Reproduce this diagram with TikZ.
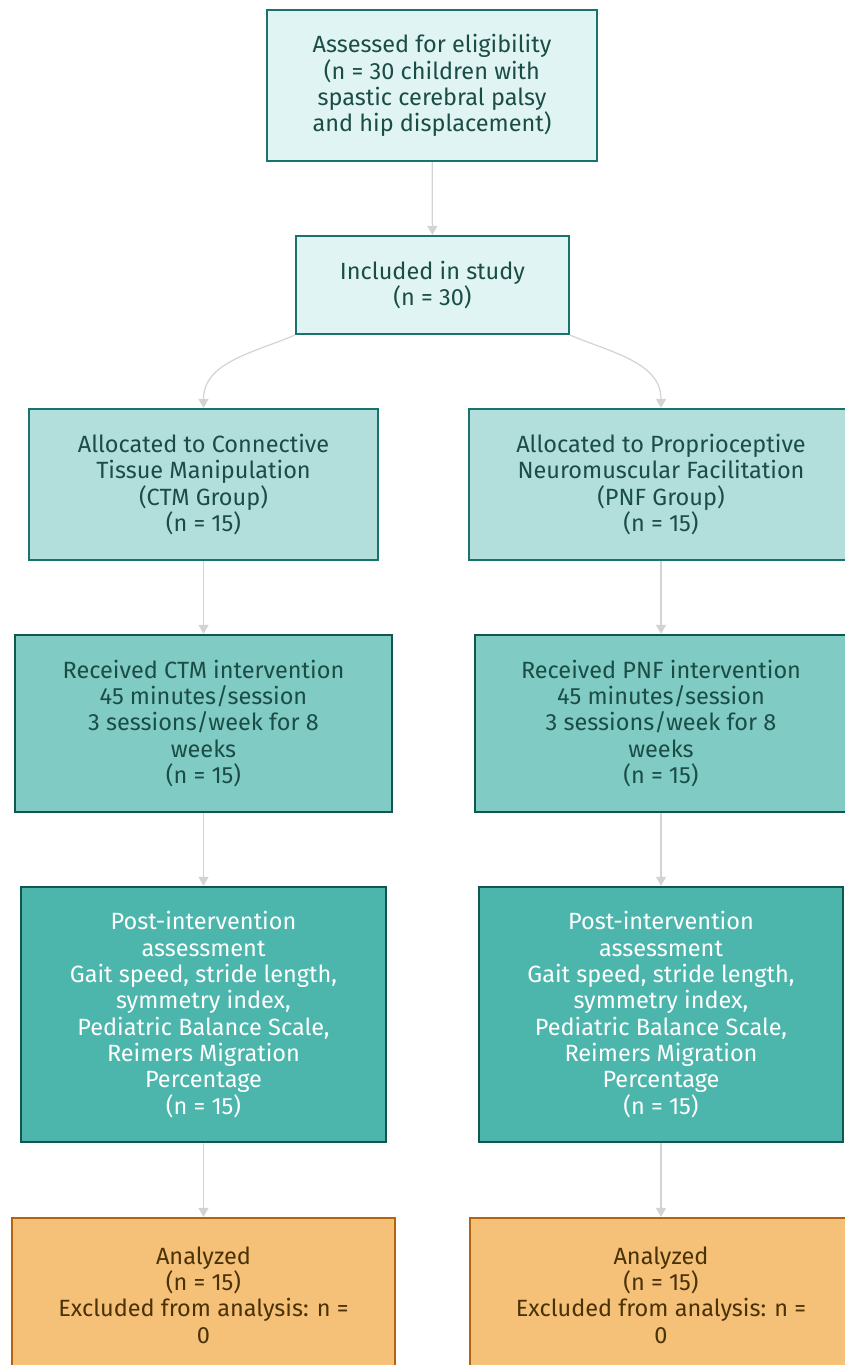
\documentclass[tikz,border=0pt]{standalone}
\usepackage{fontspec}
\setmainfont{Fira Sans}
\usetikzlibrary{arrows.meta}
\definecolor{tealline}{HTML}{17736B}
\definecolor{darkline}{HTML}{12574F}
\definecolor{fillA}{HTML}{E0F5F3}
\definecolor{fillB}{HTML}{B2DFDB}
\definecolor{fillC}{HTML}{80CBC4}
\definecolor{fillD}{HTML}{4DB6AC}
\definecolor{fillE}{HTML}{F5C077}
\definecolor{orangeline}{HTML}{B4640C}
\definecolor{tealtext}{HTML}{1B4D47}
\definecolor{browntext}{HTML}{4A3207}
\definecolor{arrgrey}{HTML}{D3D3D3}

\begin{document}
\begin{tikzpicture}[x=1pt,y=-1pt,
  box/.style={draw=tealline, line width=2.2pt, align=center, inner sep=0pt,
    text=tealtext, font=\fontsize{23.5}{26.3}\selectfont},
  boxA/.style={box, fill=fillA},
  boxB/.style={box, fill=fillB},
  boxC/.style={box, fill=fillC, draw=darkline},
  boxD/.style={box, fill=fillD, draw=darkline, text=white},
  boxE/.style={box, fill=fillE, draw=orangeline, text=browntext},
  arr/.style={draw=arrgrey, line width=1.2pt, -{Triangle[length=9pt,width=10pt]}}]
\useasboundingbox (0,0) rectangle (844,1365);
% screening:
\node[boxA, minimum width=330pt, minimum height=151pt] (elig) at (432,85.5)
  {Assessed for eligibility\\(n = 30 children with\\spastic cerebral palsy\\and hip displacement)};
\node[boxA, minimum width=273pt, minimum height=98pt] (incl) at (432.5,285)
  {Included in study\\(n = 30)};
% allocation:
\node[boxB, minimum width=349pt, minimum height=151pt] (allocCTM) at (203.5,484.5)
  {Allocated to Connective\\Tissue Manipulation\\(CTM Group)\\(n = 15)};
\node[boxB, minimum width=384pt, minimum height=151pt] (allocPNF) at (661,484.5)
  {Allocated to Proprioceptive\\Neuromuscular Facilitation\\(PNF Group)\\(n = 15)};
% intervention:
\node[boxC, minimum width=377pt, minimum height=177pt] (recCTM) at (203.5,723.5)
  {Received CTM intervention\\45 minutes/session\\3 sessions/week for 8\\weeks\\(n = 15)};
\node[boxC, minimum width=372pt, minimum height=177pt] (recPNF) at (661,723.5)
  {Received PNF intervention\\45 minutes/session\\3 sessions/week for 8\\weeks\\(n = 15)};
% follow-up:
\node[boxD, minimum width=365pt, minimum height=255pt] (postCTM) at (203.5,1014.5)
  {Post-intervention\\assessment\\Gait speed, stride length,\\symmetry index,\\Pediatric Balance Scale,\\Reimers Migration\\Percentage\\(n = 15)};
\node[boxD, minimum width=364pt, minimum height=255pt] (postPNF) at (661,1014.5)
  {Post-intervention\\assessment\\Gait speed, stride length,\\symmetry index,\\Pediatric Balance Scale,\\Reimers Migration\\Percentage\\(n = 15)};
% analysis:
\node[boxE, minimum width=383pt, minimum height=154pt] (anaCTM) at (203.5,1295)
  {Analyzed\\(n = 15)\\Excluded from analysis: n =\\0};
\node[boxE, minimum width=382pt, minimum height=154pt] (anaPNF) at (661,1295)
  {Analyzed\\(n = 15)\\Excluded from analysis: n =\\0};
% arrows:
\draw[arr] (elig) -- (incl);
\draw[arr] (incl.south west) to[out=-157, in=90] (allocCTM.north);
\draw[arr] (incl.south east) to[out=-23, in=90] (allocPNF.north);
\draw[arr] (allocCTM) -- (recCTM);
\draw[arr] (allocPNF) -- (recPNF);
\draw[arr] (recCTM) -- (postCTM);
\draw[arr] (recPNF) -- (postPNF);
\draw[arr] (postCTM) -- (anaCTM);
\draw[arr] (postPNF) -- (anaPNF);
\end{tikzpicture}
\end{document}
